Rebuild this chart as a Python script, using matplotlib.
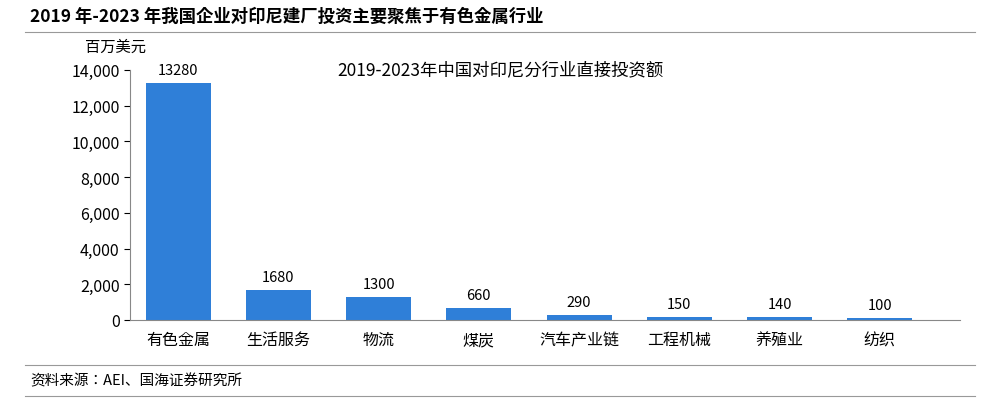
import matplotlib
matplotlib.use("Agg")
import matplotlib.pyplot as plt
from matplotlib.ticker import FuncFormatter
from matplotlib.lines import Line2D

plt.rcParams["font.family"] = "sans-serif"
plt.rcParams["font.sans-serif"] = ["Noto Sans CJK SC", "Noto Sans CJK JP", "Noto Sans CJK TC", "DejaVu Sans"]

categories = ["有色金属", "生活服务", "物流", "煤炭", "汽车产业链", "工程机械", "养殖业", "纺织"]
values = [13280, 1680, 1300, 660, 290, 150, 140, 100]
yticks = [0, 2000, 4000, 6000, 8000, 10000, 12000, 14000]

fig = plt.figure(figsize=(10, 4.02), dpi=100)
ax = fig.add_axes([0.13, 0.2015, 0.83, 0.622])
x = list(range(len(categories)))
ax.bar(x, values, width=0.65, color="#2F7FD8")
for xi, v in zip(x, values):
    ax.text(xi, v + 350, str(v), ha="center", va="bottom", fontsize=10.5)
ax.set_xlim(-0.48, 7.8)
ax.set_ylim(0, 14000)
ax.set_yticks(yticks)
ax.yaxis.set_major_formatter(FuncFormatter(lambda v, p: f"{int(v):,}"))
ax.set_xticks(x)
ax.set_xticklabels(categories, fontsize=11.5)
ax.tick_params(axis="y", labelsize=11.5, direction="out", length=4)
ax.tick_params(axis="x", length=0, pad=8)
for s in ["top", "right"]:
    ax.spines[s].set_visible(False)
ax.spines["left"].set_color("#888888")
ax.spines["bottom"].set_color("#888888")

fig.text(0.5, 1 - 70 / 402, "2019-2023年中国对印尼分行业直接投资额", ha="center", va="center", fontsize=12.5)
fig.text(0.085, 1 - 47 / 402, "百万美元", ha="left", va="center", fontsize=11)
fig.text(0.03, 1 - 17 / 402, "2019 年-2023 年我国企业对印尼建厂投资主要聚焦于有色金属行业",
         ha="left", va="center", fontsize=12.5, fontweight="bold")
fig.text(0.03, 1 - 381 / 402, "资料来源：AEI、国海证券研究所", ha="left", va="center", fontsize=10.5)
for yy, c in [(33, "#999999"), (366, "#999999"), (397, "#999999")]:
    fig.add_artist(Line2D([0.025, 0.975], [1 - yy / 402] * 2, color=c, lw=0.8))

fig.savefig("out.png", dpi=100)
